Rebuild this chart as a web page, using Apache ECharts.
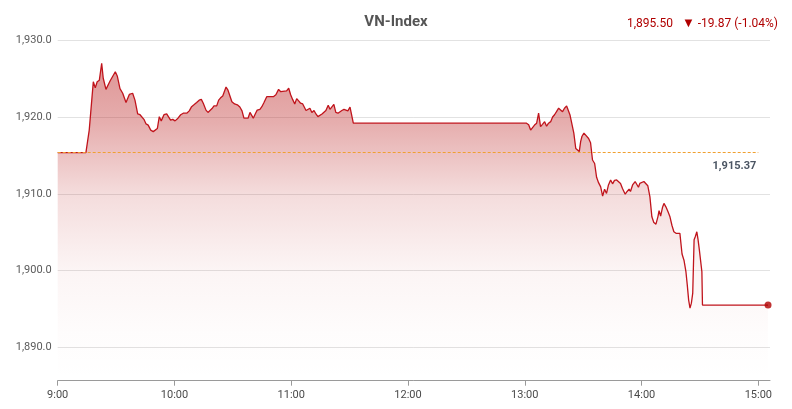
<!DOCTYPE html>
<html>
<head>
<meta charset="utf-8">
<script src="https://cdn.jsdelivr.net/npm/echarts@6/dist/echarts.min.js"></script>
<style>
html,body{margin:0;padding:0;background:#fff;}
#chart{width:792px;height:409px;}
</style>
</head>
<body>
<div id="chart"></div>
<script>
// ---- data (minutes since 9:00, index value) ----
const chartTitle = 'VN-Index';
const prevClose = 1915.37;
const minutesSince0900 = [0,14.5,16.2,17.5,18.3,19.3,20.3,21.4,22.6,23.4,24.8,25.8,26.9,27.9,29.6,30.6,32.0,33.4,35.1,36.0,36.8,38.5,39.7,41.1,42.3,43.2,44.3,45.4,46.5,47.8,49.1,50.1,51.2,52.2,53.2,54.6,56.0,57.0,58.0,59.1,60.3,61.8,63.2,64.5,66.3,67.6,68.8,70.0,71.4,72.7,73.8,74.8,76.2,77.2,78.2,79.3,80.3,81.7,82.7,83.7,84.8,85.6,86.5,87.5,88.5,89.5,90.9,92.3,93.6,94.7,95.7,96.7,97.8,98.8,99.8,100.5,101.5,102.5,103.9,104.9,106.0,107.4,109.1,110.8,112.1,113.5,114.6,115.6,117.6,118.7,119.7,120.7,121.8,122.8,123.8,124.8,125.9,126.9,127.6,128.6,129.6,130.6,131.7,132.7,133.7,134.7,135.8,136.8,137.8,139.0,139.9,140.9,141.9,142.9,144.0,145.0,146.0,147.1,148.1,149.1,150.2,150.8,151.9,240.9,242.0,243.0,244.0,245.0,246.1,247.1,248.1,249.1,250.2,251.2,252.2,253.3,254.3,255.3,256.3,257.4,258.4,259.4,260.4,261.5,262.1,263.2,264.2,265.2,266.2,266.9,268.0,268.7,269.4,270.4,271.4,272.8,273.8,274.8,275.9,276.9,277.9,279.0,280.0,281.0,282.0,283.0,284.1,285.1,286.1,287.2,288.2,289.2,290.2,291.6,292.6,293.6,294.3,295.4,296.7,297.7,298.4,299.1,300.1,301.2,302.2,303.2,304.3,305.3,306.3,307.4,308.4,309.0,309.8,310.8,311.5,312.5,313.6,314.6,315.6,316.6,317.7,318.7,319.7,320.8,321.8,322.8,323.5,324.2,324.9,325.6,326.3,327.0,327.6,328.4,329.0,329.7,330.4,331.0,331.3,365.0];
const indexValues = [1915.37,1915.37,1918.3,1922.2,1924.6,1923.8,1924.6,1924.8,1927.0,1925.05,1923.6,1923.5,1924.7,1924.5,1925.9,1925.35,1923.7,1923.1,1921.9,1921.9,1922.95,1923.1,1922.2,1920.4,1920.3,1920.5,1919.7,1919.1,1918.95,1918.3,1918.1,1917.9,1918.5,1920.05,1919.5,1920.3,1920.4,1920.3,1919.6,1919.7,1919.5,1919.85,1920.3,1920.5,1920.5,1920.8,1921.35,1921.6,1921.9,1922.2,1922.3,1921.8,1920.9,1920.6,1920.7,1921.1,1921.45,1921.45,1922.2,1922.5,1922.75,1923.3,1923.9,1923.5,1923.3,1922.0,1921.7,1921.6,1921.3,1920.8,1919.85,1919.6,1919.85,1920.6,1920.4,1919.85,1920.4,1920.9,1921.0,1921.35,1921.9,1922.65,1922.65,1922.65,1922.9,1923.6,1923.3,1923.4,1923.4,1923.75,1922.9,1922.3,1921.7,1922.4,1922.1,1921.8,1921.7,1921.45,1920.85,1920.95,1921.15,1920.6,1920.85,1920.4,1920.05,1919.85,1920.4,1920.5,1920.85,1921.55,1921.0,1921.1,1921.65,1920.6,1920.5,1920.65,1920.85,1921.0,1921.15,1920.8,1921.3,1921.3,1919.2,1919.2,1919.0,1918.3,1918.1,1918.95,1919.2,1920.5,1918.75,1919.05,1919.4,1918.8,1919.2,1919.4,1920.0,1920.3,1920.7,1921.15,1920.9,1920.7,1921.15,1921.45,1921.55,1920.3,1920.1,1917.9,1915.9,1915.8,1915.5,1916.8,1917.5,1917.9,1917.7,1917.2,1916.65,1914.4,1913.95,1912.15,1911.45,1910.9,1909.7,1910.6,1910.05,1911.15,1911.8,1911.3,1911.75,1911.8,1911.95,1911.35,1910.7,1909.95,1910.3,1910.6,1910.3,1911.15,1911.6,1911.35,1910.85,1911.35,1911.1,1911.6,1911.6,1911.05,1909.6,1907.0,1906.25,1906.05,1907.0,1907.8,1907.1,1908.25,1908.75,1908.3,1907.65,1907.0,1905.9,1905.05,1904.85,1905.05,1904.85,1902.15,1901.35,1899.85,1898.1,1896.15,1895.1,1895.75,1897.05,1904.0,1904.4,1905.05,1904.1,1902.7,1902.6,1899.85,1895.5,1895.5];
const xTickMinutes = [0,60,120,180,240,300,360];
const yTickValues = [1890,1900,1910,1920,1930];

// ---- helpers ----
const fmtNum = (v, d) => v.toLocaleString('en-US', {minimumFractionDigits: d, maximumFractionDigits: d});
const fmtTime = m => { const h = 9 + Math.floor(m / 60); const mm = Math.round(m % 60); return h + ':' + String(mm).padStart(2, '0'); };

const seriesData = minutesSince0900.map((t, i) => [t, indexValues[i]]);
const lastIdx = indexValues.length - 1;
const lastVal = indexValues[lastIdx];
const change = lastVal - prevClose;
const pct = change / prevClose * 100;
const FONT = 'Roboto, "Noto Sans", sans-serif';
const RED = '#c0141c';

const chart = echarts.init(document.getElementById('chart'), null, {renderer: 'canvas'});
chart.setOption({
  animation: false,
  backgroundColor: '#ffffff',
  title: [
    {
      text: chartTitle,
      left: 'center',
      top: 10,
      textStyle: {fontFamily: FONT, fontSize: 15, fontWeight: 'bold', color: '#555555'}
    },
    {
      text: '{a|' + fmtNum(lastVal, 2) + '}   {b|▼} {a|' + fmtNum(change, 2) + ' (' + fmtNum(pct, 2) + '%)}',
      right: 9,
      top: 12,
      textStyle: {
        fontFamily: FONT, fontSize: 12, fontWeight: 'normal', color: '#b00000',
        rich: {
          a: {fontFamily: FONT, fontSize: 12, color: '#b00000'},
          b: {fontFamily: FONT, fontSize: 13, color: '#b00000'}
        }
      }
    }
  ],
  grid: {left: 57.7, right: 22, top: 32.6, bottom: 28.3, containLabel: false},
  xAxis: {
    type: 'value',
    min: 0,
    max: 366,
    interval: 60,
    axisLine: {show: true, lineStyle: {color: '#9a9a9a', width: 1}},
    axisTick: {show: true, length: 5, lineStyle: {color: '#9a9a9a'}, customValues: xTickMinutes},
    axisLabel: {
      customValues: xTickMinutes,
      formatter: v => fmtTime(v),
      color: '#4a4a4a', fontFamily: FONT, fontSize: 11, margin: 9
    },
    splitLine: {show: false}
  },
  yAxis: {
    type: 'value',
    min: 1885.65,
    max: 1931,
    axisLine: {show: false},
    axisTick: {show: false, customValues: yTickValues},
    axisLabel: {
      customValues: yTickValues,
      formatter: v => fmtNum(v, 1),
      color: '#5a5a5a', fontFamily: FONT, fontSize: 11, margin: 6
    },
    splitLine: {show: true, lineStyle: {color: '#e2e2e2', width: 1}}
  },
  series: [
    {
      type: 'line',
      data: seriesData,
      showSymbol: false,
      symbol: 'none',
      lineStyle: {color: RED, width: 1.3},
      areaStyle: {
        origin: 'start',
        color: new echarts.graphic.LinearGradient(0, 0, 0, 1, [
          {offset: 0, color: 'rgba(190,45,45,0.72)'},
          {offset: 0.19, color: 'rgba(190,45,45,0.55)'},
          {offset: 0.41, color: 'rgba(190,45,45,0.24)'},
          {offset: 0.65, color: 'rgba(190,45,45,0.07)'},
          {offset: 0.85, color: 'rgba(190,45,45,0.02)'},
          {offset: 1, color: 'rgba(190,45,45,0)'}
        ])
      },
      markLine: {
        silent: true,
        symbol: 'none',
        lineStyle: {color: '#f0a030', type: [3, 2], width: 1},
        label: {
          show: true,
          position: 'insideEndBottom',
          formatter: () => fmtNum(prevClose, 2),
          color: '#4b5563', fontFamily: FONT, fontSize: 11, fontWeight: 'bold',
          distance: [2, 8]
        },
        data: [[{coord: [minutesSince0900[0], prevClose]}, {coord: [360, prevClose]}]]
      },
      z: 3
    },
    {
      type: 'scatter',
      data: [seriesData[lastIdx]],
      symbol: 'circle',
      symbolSize: 7,
      itemStyle: {color: '#b00000'},
      z: 4
    }
  ]
});
</script>
</body>
</html>
